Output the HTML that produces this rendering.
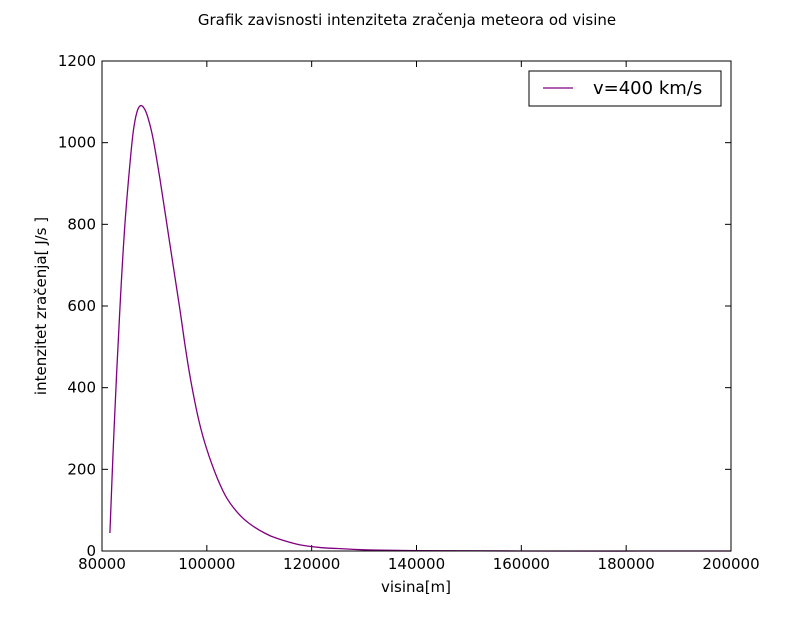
<!DOCTYPE html>
<html><head><meta charset="utf-8"><style>
body{margin:0;background:#fff;}
svg text{font-family:"DejaVu Sans","Liberation Sans",sans-serif;}
</style></head><body>
<svg id="chart" width="812" height="612" viewBox="0 0 812 612">
<rect width="812" height="612" fill="#fff"/>
<text x="407" y="25" font-size="15" text-anchor="middle">Grafik zavisnosti intenziteta zračenja meteora od visine</text>
<g id="ticks"></g>
<path id="line" fill="none" stroke="#800080" stroke-width="1.3"/>
<rect x="102" y="61" width="629" height="490" fill="none" stroke="#000" stroke-width="1"/>
<text x="416" y="592" font-size="15" text-anchor="middle">visina[m]</text>
<text transform="translate(46,306) rotate(-90)" font-size="15" text-anchor="middle">intenzitet zračenja[ J/s ]</text>
<g>
<rect x="529" y="71" width="192" height="35" fill="#fff" stroke="#000"/>
<line x1="543" y1="88" x2="573" y2="88" stroke="#800080" stroke-width="1.3"/>
<text x="593" y="94" font-size="18">v=400 km/s</text>
</g>
</svg>
<script>
const xs=[81500,82300,83434,84388,85342,86000,86620,87250,88000,88800,89790,91000,92340,93500,94880,96000,97110,98500,99970,102000,103790,106000,108240,111000,113330,117770,122000,125000,130000,140000,160000,200000];
const ys=[44,300,598,803,950,1030,1073,1090,1085,1060,1007,915,803,705,590,490,405,318,250,178,130,92,66,44,31,15,8,6,3,1,0,0];
const xTicks=[80000,100000,120000,140000,160000,180000,200000];
const yTicks=[0,200,400,600,800,1000,1200];
const X=v=>102+(v-80000)/120000*629;
const Y=v=>551-v/1200*490;
const ns="http://www.w3.org/2000/svg";
const g=document.getElementById('ticks');
function mk(tag,a){const e=document.createElementNS(ns,tag);for(const k in a)e.setAttribute(k,a[k]);g.appendChild(e);return e;}
xTicks.forEach(t=>{const x=X(t);
mk('line',{x1:x,x2:x,y1:551,y2:545,stroke:'#000'});
mk('line',{x1:x,x2:x,y1:61,y2:67,stroke:'#000'});
const tx=mk('text',{x:x,y:569,'font-size':15,'text-anchor':'middle'});tx.textContent=t;


});
yTicks.forEach(t=>{const y=Y(t);
mk('line',{x1:102,x2:108,y1:y,y2:y,stroke:'#000'});
mk('line',{x1:731,x2:725,y1:y,y2:y,stroke:'#000'});
const tx=mk('text',{x:96,y:y+5,'font-size':15,'text-anchor':'end'});tx.textContent=t;


});
const P=xs.map((v,i)=>[X(v),Y(ys[i])]);
let d='M'+P[0][0].toFixed(1)+','+P[0][1].toFixed(1);
for(let i=0;i<P.length-1;i++){
 const p0=P[i-1]||P[i],p1=P[i],p2=P[i+1],p3=P[i+2]||P[i+1];
 const c1=[p1[0]+(p2[0]-p0[0])/6,p1[1]+(p2[1]-p0[1])/6];
 const c2=[p2[0]-(p3[0]-p1[0])/6,p2[1]-(p3[1]-p1[1])/6];
 d+=' C'+c1.map(n=>n.toFixed(1)).join(',')+' '+c2.map(n=>n.toFixed(1)).join(',')+' '+p2.map(n=>n.toFixed(1)).join(',');
}
document.getElementById('line').setAttribute('d',d);
</script>
</body></html>
